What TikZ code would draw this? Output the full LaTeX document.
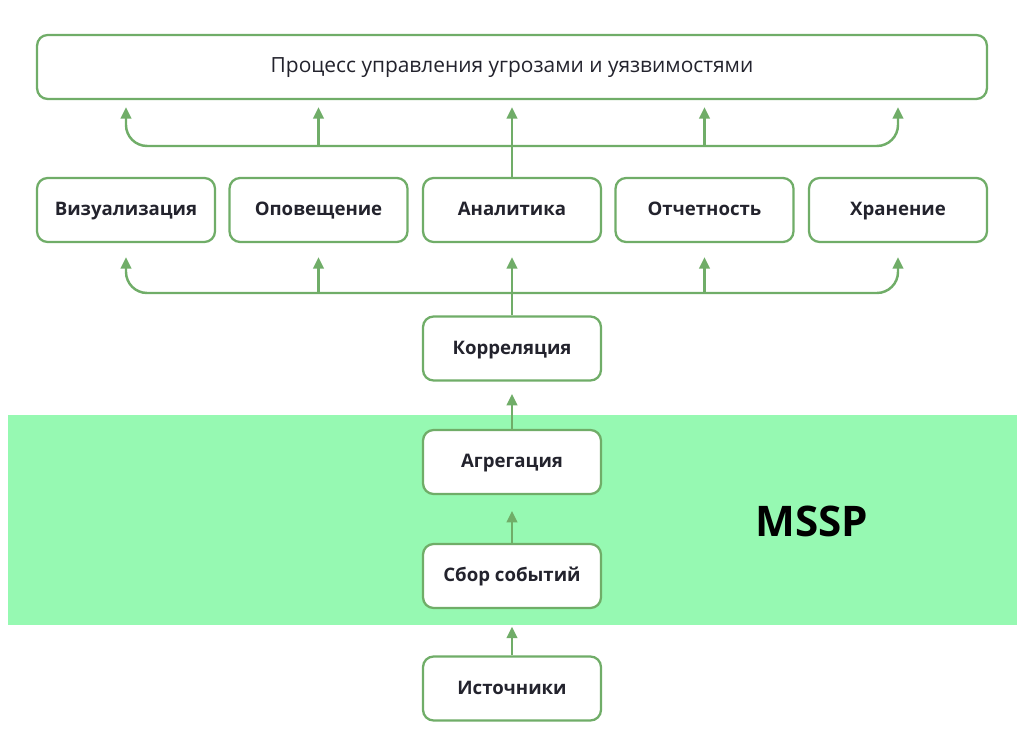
\documentclass[tikz,border=0pt]{standalone}
\usepackage{fontspec}
\setmainfont{Open Sans}
\usetikzlibrary{arrows.meta}
\definecolor{boxgreen}{RGB}{112,173,104}
\definecolor{bandgreen}{RGB}{150,249,178}
\definecolor{txt}{RGB}{35,35,45}
\tikzset{
    box/.style={draw=boxgreen, line width=1.3pt, fill=white, rounded corners=6pt,
        minimum width=3.56cm, minimum height=1.28cm, inner sep=0pt,
        text height=1.6ex, text depth=.4ex,
        font=\fontsize{10.6}{12}\selectfont\bfseries, text=txt},
    flow/.style={draw=boxgreen, line width=1.4pt, -{Triangle[length=6.5pt, width=6pt]}}
}

\begin{document}
\begin{tikzpicture}[x=0.02cm, y=-0.02cm]
\useasboundingbox (0,0) rectangle (1024,732);
\fill[bandgreen] (8,415) rectangle (1017,625);
\node[box, minimum width=19cm, font=\fontsize{11.9}{13}\selectfont] (proc) at (512,67) {Процесс управления угрозами и уязвимостями};
\node[box] (vis) at (126,210) {Визуализация};
\node[box] (alert) at (318.5,210) {Оповещение};
\node[box] (anal) at (512,210) {Аналитика};
\node[box] (report) at (704.5,210) {Отчетность};
\node[box] (store) at (898,210) {Хранение};
\node[box] (corr) at (512,348.5) {Корреляция};
\node[box] (aggr) at (512,462) {Агрегация};
\node[box] (collect) at (512,576) {Сбор событий};
\node[box] (src) at (512,688.5) {Источники};
\node[font=\fontsize{24}{28}\selectfont\bfseries] (mssp) at (812,521) {MSSP};
\coordinate (busup) at (512,146);
\coordinate (busdn) at (512,293);
\draw[flow, shorten >=4] (anal.north) -- (proc.south);
\draw[flow, shorten >=4, rounded corners=12pt] (busup) -| (proc.south -| vis.south);
\draw[flow, shorten >=4, rounded corners=12pt] (busup) -| (proc.south -| store.south);
\draw[flow, shorten >=4] (busup -| alert.north) -- (proc.south -| alert.north);
\draw[flow, shorten >=4] (busup -| report.north) -- (proc.south -| report.north);
\draw[flow, shorten >=8] (corr.north) -- (anal.south);
\draw[flow, shorten >=8, rounded corners=12pt] (busdn) -| (vis.south);
\draw[flow, shorten >=8, rounded corners=12pt] (busdn) -| (store.south);
\draw[flow, shorten >=8] (busdn -| alert.south) -- (alert.south);
\draw[flow, shorten >=8] (busdn -| report.south) -- (report.south);
\draw[flow, shorten >=7] (aggr.north) -- (corr.south);
\draw[flow, shorten >=9] (collect.north) -- (aggr.south);
\draw[flow, shorten >=10] (src.north) -- (collect.south);
\end{tikzpicture}
\end{document}
